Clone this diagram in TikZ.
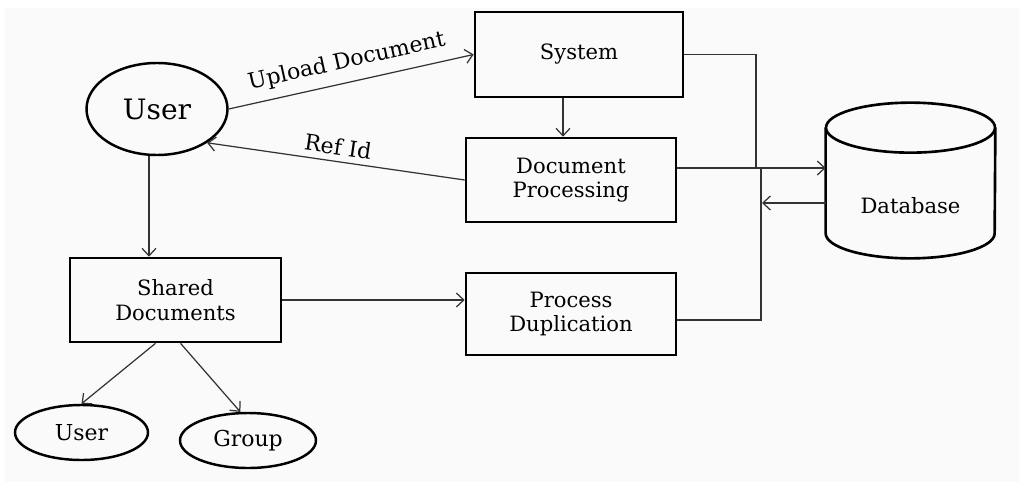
\documentclass[tikz,border=0pt]{standalone}
\usepackage{fontspec}
\setmainfont{DejaVu Serif}
\usetikzlibrary{shapes.geometric, arrows.meta}

\tikzset{
    procbox/.style={draw, line width=1.5pt, minimum width=4.2cm, minimum height=1.68cm,
        align=center, font=\fontsize{12}{14}\selectfont},
    actor/.style={draw, ellipse, line width=1.4pt, font=\fontsize{12.5}{15}\selectfont},
    flow/.style={line width=0.7pt, draw=black!80},
    >={Straight Barb[length=1.5mm, width=2.8mm]},
}

\begin{document}
\begin{tikzpicture}
            \useasboundingbox (0, 0) rectangle (20.38, -9.64);
            \fill[black!2] (0.1, -0.16) rectangle (20.38, -9.64);
            %\draw[lightgray] (0, -10) grid (21, 0);
            \node[actor, minimum width=2.82cm, minimum height=1.84cm, font=\fontsize{16}{19}\selectfont] (user) at (3.14, -2.18) {User};
            \node[procbox, minimum width=4.16cm, minimum height=1.7cm] (system) at (11.58, -1.09) {System};
            \node[procbox] (docproc) at (11.42, -3.6) {Document\\Processing};
            \node[procbox, minimum width=4.22cm] (shared) at (3.51, -6) {Shared\\Documents};
            \node[procbox, minimum height=1.64cm] (procdup) at (11.42, -6.28) {Process\\Duplication};
            \node[minimum width=3.38cm, minimum height=3.1cm,
                label={[yshift=-0.5cm, font=\fontsize{12}{14}\selectfont]center:Database}] (db) at (18.21, -3.61) {};
            \node[actor, minimum width=2.66cm, minimum height=1.1cm] (guser) at (1.63, -8.65) {User};
            \node[actor, minimum width=2.72cm, minimum height=1.1cm] (group) at (4.96, -8.81) {Group};

            % database drum
            \draw[line width=1.5pt] ([yshift=-0.5cm]db.north) ellipse (1.69cm and 0.5cm);
            \draw[line width=1.5pt] ([yshift=-0.5cm]db.north west) -- ([yshift=0.5cm]db.south west)
                arc (180:360:1.69cm and 0.5cm) -- ([yshift=-0.5cm]db.north east);

            % user side
            \draw[flow, ->] (user.east) -- node[above=2pt, sloped, font=\fontsize{12.5}{15}\selectfont] {Upload Document} (system.west);
            \draw[flow, <-] (user.-34) -- node[above, sloped, font=\fontsize{12.5}{15}\selectfont] {Ref Id} (docproc.west);
            \draw[flow, ->] ([xshift=-0.16cm]docproc.north |- system.south) -- ([xshift=-0.16cm]docproc.north);
            \draw[flow, ->] ([xshift=-0.16cm]user.south) -- ([xshift=-0.16cm]user.south |- shared.north);
            \draw[flow, ->] (shared.east) -- (shared.east -| procdup.west);
            \draw[flow, ->] ([xshift=-0.4cm]shared.south) -- (guser.north);
            \draw[flow, ->] ([xshift=0.1cm]shared.south) -- (group.105);

            % lines to the database
            \coordinate (busA) at (15.12, -3.36);
            \coordinate (busB) at (15.22, -3.36);
            \coordinate (busC) at (15.24, -4.06);
            \draw[flow] (system.east) -| (busA);
            \draw[flow, ->] (docproc.east |- busA) -- (busA -| db.west);
            \draw[flow] ([yshift=-0.12cm]procdup.east) -| (busB);
            \draw[flow, ->] (db.west |- busC) -- (busC);
        \end{tikzpicture}
\end{document}
